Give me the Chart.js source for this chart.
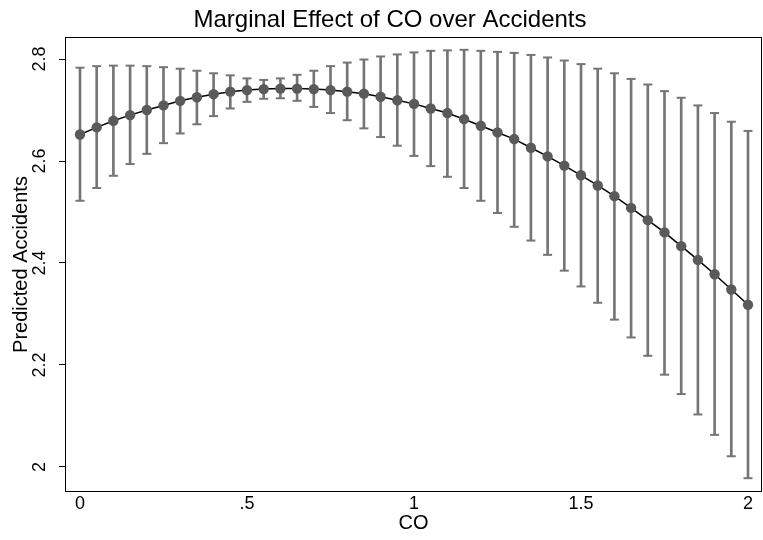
<!DOCTYPE html>
<html><head><meta charset="utf-8">
<script src="https://cdn.jsdelivr.net/npm/chart.js@4/dist/chart.umd.min.js"></script>
<style>html,body{margin:0;padding:0;background:#fff}#wrap{width:763px;height:540px}</style>
</head><body><div id="wrap"><canvas id="c" width="763" height="540"></canvas></div>
<script>
const coLevels = [0,0.05,0.1,0.15,0.2,0.25,0.3,0.35,0.4,0.45,0.5,0.55,0.6,0.65,0.7,0.75,0.8,0.85,0.9,0.95,1,1.05,1.1,1.15,1.2,1.25,1.3,1.35,1.4,1.45,1.5,1.55,1.6,1.65,1.7,1.75,1.8,1.85,1.9,1.95,2];
const predicted = [2.652,2.666,2.679,2.690,2.700,2.709,2.718,2.725,2.731,2.736,2.739,2.741,2.742,2.742,2.741,2.739,2.736,2.732,2.726,2.719,2.712,2.703,2.694,2.682,2.669,2.656,2.643,2.626,2.609,2.591,2.572,2.552,2.531,2.508,2.484,2.460,2.433,2.406,2.378,2.348,2.318];
const ciLower = [2.522,2.547,2.571,2.594,2.614,2.635,2.654,2.672,2.688,2.703,2.716,2.722,2.723,2.718,2.706,2.694,2.680,2.664,2.647,2.630,2.610,2.590,2.569,2.547,2.522,2.498,2.471,2.444,2.416,2.385,2.354,2.322,2.289,2.254,2.218,2.181,2.143,2.103,2.063,2.021,1.978];
const ciUpper = [2.783,2.786,2.787,2.787,2.786,2.784,2.781,2.777,2.772,2.768,2.762,2.759,2.762,2.769,2.777,2.786,2.793,2.799,2.805,2.809,2.813,2.816,2.817,2.818,2.816,2.814,2.812,2.808,2.803,2.797,2.790,2.781,2.772,2.761,2.750,2.737,2.724,2.709,2.694,2.677,2.659];
const xTickValues = [0,0.5,1,1.5,2];
const xTickLabels = ['0','.5','1','1.5','2'];
const yTickValues = [2,2.2,2.4,2.6,2.8];
const yTickLabels = ['2','2.2','2.4','2.6','2.8'];
const chartTitle = 'Marginal Effect of CO over Accidents';
const xAxisTitle = 'CO';
const yAxisTitle = 'Predicted Accidents';

const FONT = "'Liberation Sans', Arial, Helvetica, sans-serif";
const barColor = '#757575';
const dotColor = '#5a5a5a';

const framePlugin = {
  id: 'frame',
  beforeDatasetsDraw(chart) {
    const {ctx, chartArea: a} = chart;
    ctx.save();
    ctx.strokeStyle = '#000';
    ctx.lineWidth = 1;
    ctx.strokeRect(Math.round(a.left) - 0.5, Math.round(a.top) - 0.5, Math.round(a.right - a.left) + 1, Math.round(a.bottom - a.top) + 1);
    ctx.restore();
  },
  afterDraw(chart) {
    const {ctx} = chart;
    ctx.save();
    ctx.fillStyle = '#000';
    ctx.font = '24px ' + FONT;
    ctx.textAlign = 'center';
    ctx.textBaseline = 'alphabetic';
    ctx.fillText(chartTitle, 390, 27);
    ctx.restore();
  }
};

new Chart(document.getElementById('c'), {
  type: 'scatter',
  data: {
    datasets: [
      {
        type: 'scatter',
        label: 'Predicted',
        data: coLevels.map((x, i) => ({x, y: predicted[i]})),
        showLine: true,
        borderColor: '#000',
        borderWidth: 1.5,
        pointRadius: 5.2,
        pointBackgroundColor: dotColor,
        pointBorderColor: dotColor,
        pointBorderWidth: 0,
        tension: 0,
        order: 0
      },
      {
        type: 'scatter',
        label: 'Upper caps',
        data: coLevels.map((x, i) => ({x, y: ciUpper[i]})),
        pointStyle: 'line',
        pointRadius: 4.5,
        borderColor: barColor,
        borderWidth: 2,
        showLine: false,
        order: 1
      },
      {
        type: 'scatter',
        label: 'Lower caps',
        data: coLevels.map((x, i) => ({x, y: ciLower[i]})),
        pointStyle: 'line',
        pointRadius: 4.5,
        borderColor: barColor,
        borderWidth: 2,
        showLine: false,
        order: 1
      },
      {
        type: 'bar',
        label: 'CI',
        data: coLevels.map((x, i) => ({x, y: [ciLower[i], ciUpper[i]]})),
        backgroundColor: barColor,
        borderWidth: 0,
        barThickness: 2,
        order: 2
      }
    ]
  },
  options: {
    responsive: false,
    animation: false,
    devicePixelRatio: 1,
    layout: {autoPadding: false, padding: {top: 38, left: 0, right: 2, bottom: 0}},
    plugins: {legend: {display: false}, tooltip: {enabled: false}, title: {display: false}},
    scales: {
      x: {
        type: 'linear',
        offset: false,
        min: -0.0419,
        max: 2.0389,
        afterBuildTicks: s => { s.ticks = xTickValues.map(v => ({value: v})); },
        afterFit: s => { s.height = 49; s.paddingLeft = 0; s.paddingRight = 0; },
        grid: {display: false, drawTicks: false, offset: false},
        border: {display: false},
        ticks: {
          color: '#000',
          font: {family: FONT, size: 18},
          padding: 2,
          maxRotation: 0,
          autoSkip: false,
          callback: (v, i) => xTickLabels[i]
        },
        title: {display: true, text: xAxisTitle, color: '#000', font: {family: FONT, size: 20}, padding: {top: 0, bottom: 5}}
      },
      y: {
        type: 'linear',
        min: 1.9529,
        max: 2.8412,
        afterBuildTicks: s => { s.ticks = yTickValues.map(v => ({value: v})); },
        afterFit: s => { s.width = 66; s.paddingTop = 0; s.paddingBottom = 0; },
        grid: {display: true, drawOnChartArea: false, drawTicks: true, tickLength: 7, color: '#000', lineWidth: 1},
        border: {display: false},
        ticks: {
          color: '#000',
          font: {family: FONT, size: 18},
          padding: 6.5,
          minRotation: 90,
          maxRotation: 90,
          crossAlign: 'center',
          autoSkip: false,
          callback: (v, i) => yTickLabels[i]
        },
        title: {display: true, text: yAxisTitle, color: '#000', font: {family: FONT, size: 20}, padding: {top: 9.5, bottom: 0}}
      }
    }
  },
  plugins: [framePlugin]
});
</script>
</body></html>
